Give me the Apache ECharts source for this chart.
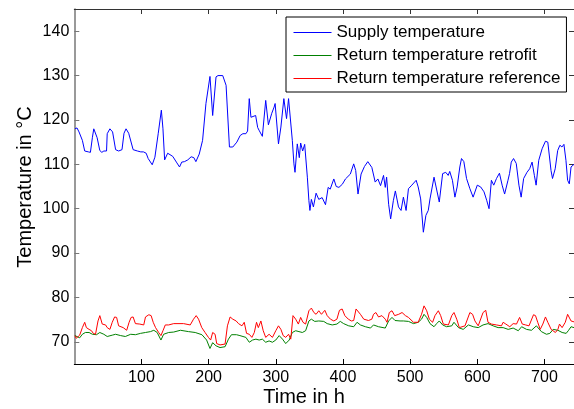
<!DOCTYPE html>
<html>
<head>
<meta charset="utf-8">
<script src="https://cdn.jsdelivr.net/npm/echarts@6/dist/echarts.min.js"></script>
<style>
html,body{margin:0;padding:0;background:#fff;}
#chart{width:574px;height:409px;}
</style>
</head>
<body>
<div id="chart"></div>
<script>
var seriesNames = ['Supply temperature', 'Return temperature retrofit', 'Return temperature reference'];
var xTicks = [100, 200, 300, 400, 500, 600, 700];
var yTicks = [70, 80, 90, 100, 110, 120, 130, 140];
var xLabel = 'Time in h';
var yLabel = 'Temperature in °C';

var supplyData = [[1,118],[4,118.2],[7,117.3],[12,115.4],[15.5,113],[18,112.6],[21,112.8],[24,112.7],[27,116.1],[29,118],[34,116],[38,113.1],[41,112.7],[44,113],[48,113],[49,116.9],[53,118],[57,117.3],[61.5,113.3],[66,113],[71,113.3],[74,117],[77,118],[81,117],[87.6,113.3],[94,113],[99,112.8],[103,112.8],[107,112.5],[110,111.3],[116,109.9],[120,111.6],[125,117],[129.6,122.2],[132,118],[134.5,111],[139,112.5],[146.5,111.8],[152,110.5],[156.7,109.4],[160,110.5],[164,110.6],[169,111],[174,111.7],[178,111.5],[181,110.6],[186,112.3],[191,115.4],[196,123.7],[202,129.8],[206,121],[211,129.7],[214,130],[221,130],[226,127.8],[231,113.9],[236,113.9],[242,115],[247,116.5],[251,116.9],[255.5,116.9],[258,117.5],[260.5,124.8],[263,120.6],[264.5,120.3],[270,121],[273,118.3],[275,117.7],[280,116.3],[285,124.4],[289,118.9],[294,121.5],[297.5,122.9],[299,123.7],[304,114.6],[307.6,118.4],[312,124.8],[316,120.3],[319,124.8],[321,124.6],[324.6,115.4],[327,110.1],[328.6,108.2],[332,114.6],[335,111.5],[337,114.8],[340,113],[343,114.5],[347,107.1],[349.3,101.8],[350.8,99.6],[353,102.1],[356,100.4],[360,103.5],[364,102.1],[369,102.5],[374,100.9],[378,104.8],[381,104.4],[386.4,106.7],[390,105],[394,104.8],[399,105.5],[403.7,106.7],[411,107.8],[416,110.1],[419,108.6],[422.4,103.3],[427,107.8],[432,109.5],[437,110.6],[443,109.3],[448,106],[452,106.7],[456,105.2],[460.4,107.5],[463,104.8],[465,107.1],[468,101],[471,97.7],[475,101.8],[478,104],[482.7,100.4],[486.5,99.6],[490,102.6],[494,99.6],[497.5,104.5],[502.5,105.3],[509,106.4],[512,104.9],[515.7,102.2],[519.7,94.7],[523.5,98.5],[527,99.6],[529.6,102.2],[532,102.6],[535.6,107.1],[538,106.8],[543.4,101.5],[548.4,107.9],[553,108.2],[556.7,107.5],[559,108.4],[563,106.4],[566.7,102.6],[570,104.9],[574,109.4],[576.5,111.3],[580,110.6],[584,106.8],[589,104.5],[593.8,102.6],[600,105.3],[605,104.9],[610,103.8],[614,101.9],[617.5,100],[621,106.4],[624.5,105.3],[628.6,106.8],[633,108],[637,105.3],[640.7,103.3],[645.7,106.4],[648,107.9],[650.6,110.5],[654,111.3],[658,110.2],[662,105.3],[665.3,102.6],[669,106.8],[674,108.2],[678,109],[681.6,110.5],[685,107.5],[687.6,105.3],[691.5,110.9],[696.5,113.5],[701.5,115.2],[705,115],[709.8,108.6],[712,106.8],[716,109],[719.7,113.1],[723,114.3],[726,113.9],[729,114.5],[732,110.9],[734.5,106.4],[737,105.6],[739.6,109.4],[744,110]];

var retrofitData = [[1,71.4],[8,70.9],[12,71.7],[16.5,72.1],[22,72.1],[27,71.7],[33,71.6],[38,72.1],[44,71.7],[49,71.2],[56.5,71.5],[61.5,71.7],[69,71.4],[76,71.2],[84,71.7],[91,71.6],[98.5,71.9],[106,72.1],[113.5,72.3],[118.4,72.6],[123.4,72.1],[129,70.4],[133,71.7],[140.5,72.1],[148,72.2],[158,72.6],[170,72.3],[180,72.1],[190,71.6],[197,70.4],[202,68.5],[206,69.8],[211,69.1],[217,68.7],[224.5,68.9],[229.5,70.6],[234,71.6],[241.5,71.6],[246.6,71.4],[255.5,71],[260.5,69.9],[265.4,70.4],[270.4,70.6],[275.3,70.4],[280,70.6],[285,69.9],[290,70.2],[295,69.9],[300,70.4],[305,71.4],[310,70.6],[314.8,69.6],[320,70.4],[324.6,72.1],[329.6,72.5],[334.5,72.3],[339.5,72.1],[344.4,72.5],[349.3,74.7],[353,75.1],[358,74.6],[364,74.7],[371.4,74.6],[376.5,74.1],[384,73.8],[391,74],[396,74.6],[401,74.1],[408.6,73.6],[416,73.4],[421,74.4],[426,73.8],[433.4,73.4],[441,73.1],[445.5,73.8],[453,73.4],[463,73.1],[468,74.7],[473,75.5],[477.5,74.8],[485,74.7],[490,74.7],[497.5,74.6],[505,74.1],[512,74.4],[517,75.1],[520.7,76.2],[524.7,75.5],[529.6,74.1],[535.6,73.4],[539.5,74.1],[543.4,74.7],[548.4,73.8],[554.3,73.4],[562,73.6],[565.3,74.4],[572,73.2],[579,72.8],[586.8,73.8],[594,73.4],[601.4,73.2],[608.6,73.8],[616,74.1],[623.6,73.6],[631,73.2],[638.5,73.2],[646,72.8],[653.4,73.1],[661,72.5],[666,73.4],[673.3,72.8],[680.7,72.6],[688,73.6],[695.4,72.3],[703,71.7],[708,71.9],[713,72.8],[720,72.6],[726.3,72.1],[732.3,71.9],[736,72.6],[739.6,73.4],[744,73.2]];

var referenceData = [[1,71.4],[3,70.8],[8,71.5],[12,73.2],[15.5,74.4],[18,73.2],[22,72.8],[25.6,72.5],[28.3,71.9],[31.6,71.7],[35.3,74.7],[38,75.9],[41.6,74],[46.6,73.8],[49,73.2],[53,72.8],[56.5,74.4],[60,75.6],[63,75.5],[66,73.6],[72.8,73.2],[78,72.6],[81.6,74.4],[84.6,75.5],[87.6,75.6],[91,74.1],[97.5,74],[103.4,73.8],[106,75.6],[111,76.1],[114.4,75.9],[117.5,74.4],[121,73.2],[125.6,72.1],[129,71.4],[132,72.5],[135.5,73.8],[140.5,73.8],[148,74.1],[162.7,74.1],[172.6,73.8],[177.5,75.1],[181.5,75.9],[185,75.1],[189.8,73.2],[194.7,72.1],[199.7,71],[203,70.4],[206,72.1],[209.6,71.7],[212,69.6],[217,69.3],[224.5,69.5],[228,73.6],[232,75.6],[236,75.1],[241,74.7],[244.5,74.1],[249.6,73.6],[253,74.4],[256.5,71.9],[260.5,71.7],[264.4,71],[268,72.1],[271.3,74.4],[274,73.2],[277.8,74.7],[281.3,72.5],[285,71],[290,71.7],[295,71],[300,72.5],[304,73.6],[307.6,72.8],[311,71.4],[314.8,71],[319,71.7],[322.3,70.6],[325.6,75.9],[329.6,75.1],[333.6,74],[337,75.5],[340.5,74.4],[344.4,74],[349.3,77],[353,77.6],[356.7,76.6],[360,76.2],[364,77],[368,76.2],[373,77.1],[376.5,75.9],[381.4,75.1],[386.4,74.7],[391,75.1],[394.8,77.1],[398.8,77.4],[402.8,75.9],[408,75.1],[412.5,74.7],[416,74.8],[419.5,77.4],[422.4,77.8],[426,76.2],[431,75.1],[438,74.8],[443,75.1],[445.5,76.2],[449,76.6],[453,75.6],[458,75.9],[463,75.1],[465.6,74.4],[469,76.6],[473,77],[477,75.9],[483,76.2],[488,76.6],[493,75.9],[497.5,75.5],[505,74.4],[512,74.4],[517,76.2],[520.7,78.1],[524.7,77],[528.6,75.1],[533.5,74.4],[537,75.9],[542,77],[545.5,75.9],[549.4,74],[557,73.8],[562,75.9],[565.3,76.6],[569.4,75.1],[573.3,73.2],[581.7,73.6],[589,76.6],[593,76.2],[596.5,74.7],[601.4,73.6],[608.6,76.6],[612.6,77.1],[616,74.4],[621,74],[628.6,73.8],[636,73.6],[638.5,74.4],[642.5,74],[648.4,73.4],[653.4,74.1],[658.4,74],[663,75.5],[667,74],[672,73.8],[677,73.6],[683.7,76.1],[686.7,75.9],[690,74.4],[693.7,72.8],[697.6,74],[701.5,75.6],[705,74.4],[710,72.8],[716.3,72.1],[720,72.8],[722.4,74],[726.3,73.2],[731,74.4],[734.5,76.2],[737,76.6],[739.6,74.7],[744,74.5]];

var FONT = '"Liberation Sans", Arial, sans-serif';
var chart = echarts.init(document.getElementById('chart'), null, {renderer: 'canvas'});

function mkX(pos, showLabel, color) {
  return {
    type: 'value', position: pos, min: 0, max: 744,
    axisLine: {show: true, onZero: false, lineStyle: {color: color, width: 1}},
    axisTick: {show: true, inside: true, length: 5, customValues: xTicks, lineStyle: {color: color}},
    axisLabel: {show: showLabel, customValues: xTicks, margin: 6, color: '#000', fontSize: 16, fontFamily: FONT},
    splitLine: {show: false}
  };
}
function mkY(pos, showLabel, color, w) {
  return {
    type: 'value', position: pos, min: 65, max: 145,
    axisLine: {show: true, onZero: false, lineStyle: {color: color, width: w}},
    axisTick: {show: true, inside: true, length: 5, customValues: yTicks, lineStyle: {color: color}},
    axisLabel: {show: showLabel, customValues: yTicks, margin: 5, color: '#000', fontSize: 16, fontFamily: FONT},
    splitLine: {show: false}
  };
}

var colors = ['#0000ff', '#008000', '#ff0000'];
var datasets = [supplyData, retrofitData, referenceData];

chart.setOption({
  animation: false,
  backgroundColor: '#fff',
  grid: {left: 74.3, top: 9, width: 502.2, height: 355, containLabel: false},
  xAxis: [mkX('bottom', true, '#000'), mkX('top', false, '#333')],
  yAxis: [mkY('left', true, '#777', 1.5), mkY('right', false, '#333', 1)],
  legend: {
    orient: 'vertical', left: 286, top: 17,
    padding: [7, 6, 5, 7],
    itemWidth: 38, itemHeight: 16, itemGap: 6,
    backgroundColor: '#fff', borderColor: '#000', borderWidth: 1,
    itemStyle: {opacity: 0},
    lineStyle: {width: 1},
    textStyle: {fontSize: 17, fontFamily: FONT, color: '#000'},
    data: seriesNames
  },
  series: datasets.map(function (d, i) {
    return {
      name: seriesNames[i], type: 'line', data: d,
      xAxisIndex: 0, yAxisIndex: 0,
      symbol: 'none', showSymbol: false,
      lineStyle: {color: colors[i], width: 1},
      itemStyle: {color: colors[i]}
    };
  }),
  graphic: [
    {type: 'text', x: 304, y: 397, style: {text: xLabel, font: '20px ' + FONT, fill: '#000', align: 'center', verticalAlign: 'middle'}},
    {type: 'text', x: 25, y: 187, rotation: Math.PI / 2, style: {text: yLabel, font: '20px ' + FONT, fill: '#000', align: 'center', verticalAlign: 'middle'}}
  ]
});
</script>
</body>
</html>
